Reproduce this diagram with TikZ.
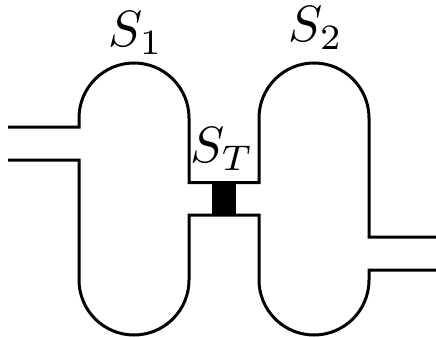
\documentclass[tikz,border=0pt]{standalone}
\usepackage{amsmath}

\begin{document}
\begin{tikzpicture}[x=1pt,y=-1pt,
wall/.style={line width=3pt,miter limit=10},
every node/.style={inner sep=0pt,scale=5.1}]
\useasboundingbox (0,0) rectangle (436,337);

% upper walls
\draw[wall] (8,127) -- (79,127) -- (79,118) arc[start angle=180,end angle=360,radius=55] -- (189,182.5) -- (259,182.5) -- (259,118) arc[start angle=180,end angle=360,radius=55] -- (369,237) -- (436,237);
% lower walls
\draw[wall] (8,160) -- (79,160) -- (79,280) arc[start angle=180,end angle=0,radius=55] -- (189,215) -- (259,215) -- (259,280) arc[start angle=180,end angle=0,radius=55] -- (369,270) -- (436,270);
% junction
\fill (212,182.5) rectangle (236,215);

\node (s1) at (136,33) {$S_1$};
\node (s2) at (316,28) {$S_2$};
\node (st) at (222,149) {$S_T$};
\end{tikzpicture}
\end{document}
